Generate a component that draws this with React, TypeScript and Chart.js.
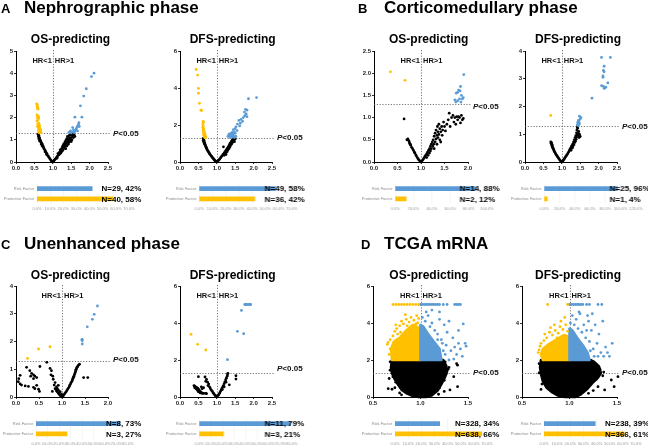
import React, { useEffect, useRef } from 'react';
import { Chart, registerables } from 'chart.js';

Chart.register(...registerables);

const FONT = "'Liberation Sans', Arial, Helvetica, sans-serif";
const BLUE = '#5B9BD5';
const YELLOW = '#FFC000';
const BLACK = '#000000';

type Pt = [number, number];

// ---------------- A: Nephrographic phase ----------------
const aOsProt: Pt[] = [[0.56,2.62],[0.58,2.58],[0.57,2.52],[0.59,2.47],[0.58,2.42],[0.60,2.38],[0.57,2.12],[0.59,2.08],[0.61,2.05],[0.58,2.0],[0.62,1.98],[0.60,1.9],[0.57,1.85],[0.62,1.75],[0.59,1.72],[0.61,1.68],[0.64,1.65],[0.58,1.62],[0.63,1.58],[0.60,1.55],[0.65,1.52],[0.62,1.5],[0.66,1.47],[0.63,1.45],[0.61,1.42],[0.67,1.4],[0.64,1.38],[0.66,1.35],[0.62,1.33],[0.68,1.32],[0.65,1.31]];
const aOsRisk: Pt[] = [[2.12,4.0],[2.05,3.85],[1.91,3.3],[1.84,2.97],[1.75,2.53],[1.6,2.02],[1.79,2.02],[1.71,1.77],[1.7,1.7],[1.68,1.62],[1.66,1.58],[1.72,1.6],[1.54,1.55],[1.56,1.45],[1.62,1.45],[1.48,1.4],[1.6,1.38],[1.52,1.35],[1.67,1.4],[1.44,1.33],[1.64,1.5],[1.58,1.33],[1.5,1.32]];
const aOsNs: Pt[] = [[0.6,1.25],[0.62,1.2],[0.61,1.15],[0.63,1.1],[0.62,1.05],[0.64,1.08],[0.65,1.0],[0.66,0.98],[0.64,0.95],[0.67,0.92],[0.68,0.88],[0.7,0.85],[0.69,0.8],[0.72,0.78],[0.71,0.72],[0.74,0.7],[0.75,0.65],[0.76,0.6],[0.78,0.55],[0.8,0.5],[0.79,0.46],[0.82,0.42],[0.84,0.38],[0.83,0.34],[0.86,0.3],[0.88,0.25],[0.9,0.2],[0.92,0.15],[0.94,0.1],[0.96,0.06],[0.98,0.03],[1.0,0.0],[1.02,0.03],[1.04,0.08],[1.06,0.12],[1.08,0.15],[1.1,0.2],[1.12,0.25],[1.15,0.3],[1.14,0.38],[1.18,0.35],[1.2,0.45],[1.2,0.55],[1.22,0.5],[1.24,0.6],[1.25,0.48],[1.26,0.68],[1.28,0.55],[1.28,0.75],[1.3,0.62],[1.3,0.82],[1.32,0.7],[1.33,0.9],[1.34,0.78],[1.35,0.6],[1.36,0.98],[1.36,0.85],[1.38,0.72],[1.38,1.05],[1.4,0.9],[1.4,1.15],[1.42,0.8],[1.42,1.0],[1.44,1.1],[1.44,0.88],[1.45,1.2],[1.46,0.95],[1.47,1.05],[1.48,1.22],[1.5,1.1],[1.52,1.0],[1.5,0.92],[1.53,1.18],[1.55,1.25],[1.56,1.1],[1.58,1.22],[1.6,1.15],[1.22,0.4],[1.17,0.42],[1.12,0.18]];

const aDfsProt: Pt[] = [[0.44,5.0],[0.48,4.7],[0.5,3.98],[0.5,3.72],[0.53,3.17],[0.57,2.8],[0.59,2.78],[0.63,2.2],[0.64,2.15],[0.62,2.05],[0.63,1.95],[0.62,1.88],[0.64,1.82],[0.63,1.75],[0.65,1.7],[0.64,1.65],[0.66,1.62],[0.65,1.58],[0.67,1.55],[0.64,1.52],[0.66,1.5],[0.68,1.47],[0.65,1.45],[0.67,1.42],[0.69,1.4],[0.66,1.38],[0.68,1.36],[0.7,1.34],[0.67,1.32],[0.69,1.31]];
const aDfsRisk: Pt[] = [[2.08,3.48],[1.86,3.42],[1.78,2.85],[1.82,2.8],[1.75,2.7],[1.8,2.6],[1.76,2.5],[1.82,2.45],[1.72,2.4],[1.7,2.2],[1.66,2.3],[1.6,2.25],[1.64,2.1],[1.56,2.05],[1.62,1.95],[1.52,1.9],[1.5,1.8],[1.55,1.7],[1.45,1.75],[1.48,1.62],[1.42,1.6],[1.38,1.55],[1.5,1.55],[1.4,1.45],[1.35,1.42],[1.46,1.4],[1.3,1.38],[1.42,1.35],[1.52,1.38],[1.36,1.33],[1.48,1.32],[1.33,1.5],[1.44,1.5]];
const aDfsNs: Pt[] = [[0.63,1.28],[0.64,1.22],[0.65,1.18],[0.63,1.15],[0.66,1.1],[0.65,1.05],[0.67,1.02],[0.66,0.98],[0.68,0.95],[0.69,0.9],[0.7,0.85],[0.71,0.8],[0.72,0.75],[0.73,0.7],[0.74,0.65],[0.76,0.6],[0.77,0.55],[0.79,0.5],[0.8,0.45],[0.82,0.4],[0.84,0.35],[0.86,0.3],[0.88,0.25],[0.9,0.2],[0.92,0.15],[0.94,0.1],[0.96,0.06],[0.98,0.03],[1.0,0.0],[1.02,0.03],[1.04,0.08],[1.06,0.12],[1.08,0.16],[1.1,0.22],[1.12,0.28],[1.14,0.32],[1.16,0.38],[1.18,0.42],[1.2,0.48],[1.2,0.36],[1.22,0.54],[1.24,0.6],[1.24,0.45],[1.26,0.66],[1.28,0.72],[1.28,0.55],[1.3,0.78],[1.3,0.65],[1.32,0.85],[1.33,0.72],[1.34,0.92],[1.35,0.8],[1.36,1.0],[1.37,0.88],[1.38,1.05],[1.39,0.95],[1.4,1.12],[1.41,1.0],[1.42,1.18],[1.43,1.08],[1.44,1.22],[1.45,1.15],[1.46,1.28],[1.47,1.2],[1.48,1.1],[1.5,1.25],[1.25,0.4],[1.18,0.82]];

// ---------------- B: Corticomedullary phase ----------------
const bOsProt: Pt[] = [[0.35,2.03],[0.66,1.84]];
const bOsRisk: Pt[] = [[1.91,1.97],[1.84,1.7],[1.8,1.62],[1.83,1.6],[1.78,1.57],[1.75,1.55],[1.86,1.5],[1.9,1.45],[1.82,1.42],[1.72,1.4],[1.78,1.38],[1.88,1.42],[1.74,1.35],[1.85,1.35]];
const bOsNs: Pt[] = [[0.64,0.97],[0.7,0.5],[0.72,0.52],[0.74,0.48],[0.75,0.45],[0.76,0.42],[0.77,0.4],[0.78,0.38],[0.8,0.33],[0.82,0.3],[0.84,0.26],[0.86,0.22],[0.87,0.2],[0.89,0.16],[0.9,0.14],[0.92,0.1],[0.94,0.07],[0.96,0.04],[0.98,0.02],[1.0,0.0],[1.02,0.02],[1.04,0.05],[1.06,0.08],[1.08,0.12],[1.1,0.15],[1.12,0.18],[1.12,0.1],[1.14,0.22],[1.15,0.15],[1.16,0.26],[1.18,0.3],[1.18,0.2],[1.2,0.35],[1.2,0.25],[1.22,0.4],[1.22,0.3],[1.24,0.45],[1.25,0.35],[1.26,0.5],[1.27,0.4],[1.28,0.58],[1.3,0.45],[1.3,0.65],[1.32,0.52],[1.32,0.72],[1.34,0.6],[1.35,0.8],[1.36,0.55],[1.36,0.68],[1.38,0.85],[1.38,0.62],[1.4,0.75],[1.4,0.5],[1.42,0.68],[1.44,0.8],[1.45,0.6],[1.46,0.72],[1.48,0.9],[1.5,0.8],[1.52,0.7],[1.55,0.85],[1.58,0.95],[1.6,1.1],[1.62,0.8],[1.65,1.0],[1.68,1.05],[1.7,0.9],[1.72,1.0],[1.74,0.85],[1.76,1.02],[1.78,0.95],[1.8,1.02],[1.82,1.0],[1.84,0.88],[1.86,1.05],[1.88,0.95],[1.9,0.98],[1.28,0.3],[1.34,0.4],[1.42,0.45]];

const bDfsProt: Pt[] = [[0.7,1.68]];
const bDfsRisk: Pt[] = [[2.08,3.77],[2.32,3.77],[2.15,3.45],[2.13,3.3],[2.15,3.25],[2.12,3.1],[2.12,3.05],[2.25,2.85],[2.08,2.75],[2.13,2.72],[2.18,2.68],[2.15,2.65],[2.2,2.7],[1.82,2.3],[1.48,1.65],[1.52,1.6],[1.5,1.55],[1.45,1.5],[1.47,1.45],[1.43,1.42],[1.46,1.4],[1.44,1.35],[1.42,1.33],[1.48,1.38],[1.45,1.31]];
const bDfsNs: Pt[] = [[0.7,0.72],[0.71,0.68],[0.72,0.65],[0.73,0.6],[0.74,0.57],[0.75,0.53],[0.76,0.5],[0.77,0.47],[0.78,0.44],[0.79,0.4],[0.8,0.37],[0.82,0.33],[0.84,0.28],[0.86,0.24],[0.88,0.2],[0.9,0.16],[0.92,0.12],[0.94,0.08],[0.96,0.05],[0.98,0.02],[1.0,0.0],[0.72,0.7],[0.74,0.62],[1.02,0.03],[1.04,0.06],[1.06,0.1],[1.08,0.14],[1.1,0.18],[1.12,0.22],[1.14,0.26],[1.16,0.3],[1.18,0.35],[1.2,0.4],[1.22,0.45],[1.24,0.5],[1.25,0.42],[1.26,0.55],[1.28,0.6],[1.28,0.5],[1.3,0.65],[1.3,0.55],[1.32,0.72],[1.33,0.62],[1.34,0.8],[1.35,0.7],[1.36,0.88],[1.37,0.75],[1.38,0.95],[1.39,0.82],[1.4,1.05],[1.4,0.9],[1.41,1.15],[1.42,0.98],[1.43,1.22],[1.44,1.05],[1.45,0.95],[1.46,1.1],[1.47,0.88],[1.48,1.0],[1.5,0.92],[1.42,1.26]];

// ---------------- C: Unenhanced phase ----------------
const cOsProt: Pt[] = [[0.25,1.39],[0.49,1.73],[0.74,1.81]];
const cOsRisk: Pt[] = [[1.77,3.28],[1.7,2.98],[1.66,2.8],[1.55,2.53],[1.44,2.08],[1.44,2.03],[1.44,1.91],[1.43,2.06]];
const cOsNs: Pt[] = [[0.67,1.25],[0.23,1.07],[0.3,0.95],[0.34,0.85],[0.38,0.8],[0.32,0.75],[0.41,0.75],[0.38,0.66],[0.45,0.7],[0.52,1.1],[0.45,0.42],[0.06,0.66],[0.05,0.55],[0.09,0.47],[0.12,0.43],[0.2,0.4],[0.27,0.38],[0.38,0.35],[0.41,0.3],[0.49,0.28],[0.51,0.2],[0.09,0.78],[0.74,1.03],[0.77,0.95],[0.76,0.8],[0.8,0.75],[0.81,0.64],[0.85,0.52],[0.83,0.43],[0.88,0.36],[0.92,0.25],[0.96,0.19],[0.99,0.1],[0.92,0.42],[0.79,0.2],[0.85,0.3],[0.88,0.22],[0.9,0.18],[0.92,0.14],[0.94,0.1],[0.96,0.06],[0.98,0.03],[1.0,0.0],[0.9,0.3],[0.87,0.27],[1.02,0.03],[1.04,0.08],[1.06,0.12],[1.08,0.17],[1.1,0.22],[1.12,0.27],[1.14,0.32],[1.16,0.38],[1.17,0.43],[1.19,0.48],[1.2,0.53],[1.22,0.58],[1.23,0.63],[1.24,0.68],[1.26,0.74],[1.27,0.8],[1.28,0.85],[1.29,0.9],[1.3,0.95],[1.31,1.0],[1.32,1.05],[1.34,1.1],[1.36,1.15],[1.38,1.18],[1.25,0.72],[1.3,0.98],[1.33,1.08],[1.47,0.7],[1.56,0.7]];

const cDfsProt: Pt[] = [[0.3,3.39],[0.48,2.85],[0.7,2.54]];
const cDfsRisk: Pt[] = [[1.76,5.0],[1.8,5.0],[1.84,5.0],[1.88,5.0],[1.92,5.0],[1.67,4.68],[1.56,3.55],[1.73,3.42],[1.29,2.02],[1.78,5.0],[1.9,5.0]];
const cDfsNs: Pt[] = [[0.38,0.62],[0.4,0.58],[0.42,0.55],[0.4,0.5],[0.45,0.52],[0.48,0.48],[0.44,0.45],[0.5,0.42],[0.46,0.4],[0.52,0.38],[0.48,0.35],[0.55,0.3],[0.5,0.28],[0.58,0.25],[0.55,0.22],[0.6,0.2],[0.62,0.2],[0.65,0.2],[0.7,0.2],[0.72,0.18],[0.5,1.1],[0.68,1.08],[0.72,0.95],[0.7,0.85],[0.75,0.8],[0.78,0.7],[0.76,0.62],[0.8,0.55],[0.82,0.48],[0.84,0.4],[0.86,0.35],[0.88,0.3],[0.9,0.22],[0.92,0.18],[0.94,0.12],[0.96,0.08],[0.98,0.04],[1.0,0.0],[0.64,0.5],[0.6,0.45],[0.58,0.55],[1.02,0.05],[1.04,0.1],[1.06,0.16],[1.08,0.22],[1.1,0.3],[1.12,0.38],[1.14,0.46],[1.16,0.54],[1.18,0.62],[1.2,0.72],[1.22,0.82],[1.24,0.92],[1.26,1.02],[1.28,1.12],[1.29,1.2],[1.3,1.28],[1.15,0.4],[1.2,0.55],[1.25,0.8],[1.52,1.15],[1.52,0.97],[1.34,0.66]];

// ---------------- D: TCGA mRNA ----------------
const dOsNsShape: Pt[] = [[0.7,2.0],[0.69,1.6],[0.7,1.28],[0.73,0.95],[0.76,0.7],[0.8,0.4],[0.86,0.18],[0.92,0.05],[0.98,0.0],[1.06,0.0],[1.12,0.1],[1.18,0.35],[1.22,0.7],[1.26,1.1],[1.28,1.4],[1.27,1.7],[1.24,2.0]];
const dOsNs: Pt[] = [[1.38,1.8],[1.39,1.72],[1.35,1.1],[1.39,0.56],[1.31,0.38],[1.25,0.3],[0.7,0.42],[0.73,0.5],[0.66,0.45],[0.78,0.22],[1.3,1.6],[0.67,1.0],[1.19,0.15],[0.8,0.12],[0.68,1.9],[0.68,1.45],[0.71,1.1],[0.74,0.8],[1.27,1.25],[1.29,1.5],[1.25,0.9],[1.2,0.5],[1.26,1.9]];
const dOsProtShape: Pt[] = [[0.7,2.0],[1.0,2.0],[1.0,3.7],[0.92,3.9],[0.85,3.6],[0.78,3.2],[0.72,3.0],[0.69,2.6]];
const dOsProt: Pt[] = [[0.65,2.85],[0.66,2.95],[0.68,3.1],[0.71,3.3],[0.73,3.55],[0.75,3.7],[0.74,3.9],[0.78,3.85],[0.8,4.1],[0.82,3.95],[0.85,4.2],[0.88,4.05],[0.9,4.3],[0.93,4.15],[0.96,4.4],[0.98,4.25],[0.84,4.45],[0.79,3.5],[0.9,3.75],[0.95,3.95],[0.86,3.85],[0.97,4.0],[0.67,2.3],[0.68,2.6],[0.76,3.4],[0.71,5.0],[0.74,5.0],[0.77,5.0],[0.8,5.0],[0.83,5.0],[0.86,5.0],[0.89,5.0],[0.92,5.0],[0.95,5.0],[0.98,5.0]];
const dOsRiskShape: Pt[] = [[1.0,2.0],[1.22,2.0],[1.2,2.6],[1.14,3.0],[1.08,3.4],[1.03,3.8],[1.0,3.9]];
const dOsRisk: Pt[] = [[1.02,4.3],[1.05,4.1],[1.08,4.4],[1.1,3.8],[1.12,4.0],[1.15,3.6],[1.18,3.4],[1.2,4.2],[1.22,3.1],[1.25,3.9],[1.27,2.8],[1.28,3.5],[1.3,4.1],[1.32,2.5],[1.34,3.2],[1.36,2.7],[1.38,2.3],[1.4,2.9],[1.42,2.6],[1.45,3.95],[1.44,2.2],[1.47,2.9],[1.48,2.75],[1.35,2.05],[1.26,2.3],[1.3,2.0],[1.2,4.6],[1.12,4.7],[1.06,4.6],[1.4,3.6],[1.24,2.5],[1.16,2.8],[1.23,2.9],[1.18,3.1],[1.0,5.0],[1.02,5.0],[1.04,5.0],[1.06,5.0],[1.08,5.0],[1.1,5.0],[1.12,5.0],[1.14,5.0],[1.16,5.0],[1.18,5.0],[1.2,5.0],[1.24,5.0],[1.28,5.0],[1.36,5.0],[1.38,5.0],[1.4,5.0],[1.42,5.0]];

const dDfsNsShape: Pt[] = [[0.7,2.0],[0.69,1.6],[0.7,1.25],[0.72,0.85],[0.76,0.5],[0.82,0.25],[0.88,0.08],[0.95,0.0],[1.06,0.0],[1.12,0.15],[1.18,0.4],[1.24,0.75],[1.3,1.05],[1.33,1.3],[1.31,1.65],[1.26,1.9],[1.22,2.0]];
const dDfsNs: Pt[] = [[1.51,1.1],[1.44,0.92],[1.29,1.68],[1.47,0.56],[1.3,0.56],[1.37,0.38],[0.7,0.41],[1.36,1.35],[1.2,0.2],[1.25,0.35],[0.68,1.8],[0.68,1.3],[0.71,0.7],[1.32,1.5],[1.28,0.95],[1.35,1.15]];
const dDfsProtShape: Pt[] = [[0.72,2.0],[1.0,2.0],[1.0,3.2],[0.94,3.35],[0.86,3.1],[0.78,2.85],[0.72,2.6],[0.7,2.3]];
const dDfsProt: Pt[] = [[0.67,2.4],[0.68,2.55],[0.69,2.75],[0.7,2.9],[0.73,3.05],[0.76,3.2],[0.74,3.4],[0.79,3.5],[0.82,3.35],[0.85,3.6],[0.88,3.45],[0.9,3.8],[0.93,3.65],[0.96,3.9],[0.98,3.55],[0.84,3.9],[0.8,3.75],[0.91,4.1],[0.95,4.3],[0.87,3.2],[0.97,3.3],[0.77,5.0],[0.98,5.0]];
const dDfsRiskShape: Pt[] = [[1.0,2.0],[1.21,2.0],[1.19,2.4],[1.14,2.8],[1.08,3.2],[1.03,3.6],[1.0,3.7]];
const dDfsRisk: Pt[] = [[1.01,4.0],[1.03,4.4],[1.05,3.9],[1.07,4.2],[1.09,3.7],[1.11,4.5],[1.13,3.5],[1.15,3.9],[1.17,3.2],[1.19,4.4],[1.21,3.0],[1.23,3.6],[1.25,2.6],[1.27,3.9],[1.29,2.9],[1.31,3.4],[1.33,2.4],[1.35,4.1],[1.36,2.2],[1.38,2.7],[1.4,2.4],[1.42,2.2],[1.45,2.9],[1.3,2.2],[1.26,2.2],[1.2,4.1],[1.1,4.6],[1.24,4.5],[1.18,3.6],[1.22,2.5],[1.0,5.0],[1.02,5.0],[1.04,5.0],[1.06,5.0],[1.08,5.0],[1.1,5.0],[1.12,5.0],[1.14,5.0],[1.18,5.0],[1.21,5.0],[1.3,5.0],[1.34,5.0]];

// ---------------- Bar summaries (Risk, Protective) ----------------
const barCategories = ['Risk Factor', 'Protective Factor'];
const aOsPct = [42, 58]; const aOsN = [29, 40];
const aDfsPct = [58, 42]; const aDfsN = [49, 36];
const bOsPct = [88, 12]; const bOsN = [14, 2];
const bDfsPct = [96, 4]; const bDfsN = [25, 1];
const cOsPct = [73, 27]; const cOsN = [8, 3];
const cDfsPct = [79, 21]; const cDfsN = [11, 3];
const dOsPct = [34, 66]; const dOsN = [328, 638];
const dDfsPct = [39, 61]; const dDfsN = [238, 366];

const SIG = -Math.log10(0.05);

const toXY = (a: Pt[]) => a.map(([x, y]) => ({ x, y }));

// ---------- plugins ----------
const volcanoDeco = {
  id: 'volcanoDeco',
  beforeDatasetsDraw(chart: any, _args: any, opts: any) {
    const { ctx, chartArea: a, scales } = chart;
    const px = Math.round(scales.x.getPixelForValue(1)) + 0.5;
    const py = Math.round(scales.y.getPixelForValue(SIG)) + 0.5;
    ctx.save();
    ctx.strokeStyle = '#555';
    ctx.lineWidth = 0.8;
    ctx.setLineDash([1.2, 1.6]);
    ctx.beginPath();
    ctx.moveTo(px, a.top - 1);
    ctx.lineTo(px, a.bottom);
    ctx.stroke();
    ctx.beginPath();
    ctx.moveTo(a.left, py);
    ctx.lineTo(a.right + 3, py);
    ctx.stroke();
    ctx.setLineDash([]);
    // dense regions of the point cloud, drawn through the scales
    (opts.shapes || []).forEach((s: { pts: Pt[]; color: string }) => {
      ctx.beginPath();
      s.pts.forEach(([x, y], i) => {
        const X = scales.x.getPixelForValue(x);
        const Y = scales.y.getPixelForValue(y);
        if (i === 0) ctx.moveTo(X, Y); else ctx.lineTo(X, Y);
      });
      ctx.closePath();
      ctx.fillStyle = s.color;
      ctx.strokeStyle = s.color;
      ctx.lineWidth = 2.6;
      ctx.lineJoin = 'round';
      ctx.fill();
      ctx.stroke();
    });
    ctx.restore();
  },
  afterDatasetsDraw(chart: any, _args: any, opts: any) {
    const { ctx, chartArea: a, scales } = chart;
    const px = scales.x.getPixelForValue(1);
    const py = scales.y.getPixelForValue(SIG);
    ctx.save();
    ctx.fillStyle = '#111';
    ctx.textBaseline = 'middle';
    ctx.font = `bold 7.5px ${FONT}`;
    ctx.textAlign = 'right';
    ctx.fillText('HR<1', px - 1, a.top + 10);
    ctx.textAlign = 'left';
    ctx.fillText('HR>1', px + 2, a.top + 10);
    const tx = a.right + 5;
    const ty = py + (opts.pDy || 0);
    ctx.font = `italic bold 8px ${FONT}`;
    ctx.fillText('P', tx, ty);
    const w = ctx.measureText('P').width;
    ctx.font = `bold 8px ${FONT}`;
    ctx.fillText('<0.05', tx + w, ty);
    ctx.restore();
  },
};

const barLabels = {
  id: 'barLabels',
  afterDatasetsDraw(chart: any, _args: any, opts: any) {
    const { ctx } = chart;
    const meta = chart.getDatasetMeta(0);
    ctx.save();
    ctx.font = `bold 8px ${FONT}`;
    ctx.fillStyle = '#000';
    ctx.textAlign = 'left';
    ctx.textBaseline = 'middle';
    meta.data.forEach((bar: any, i: number) => {
      ctx.fillText(opts.labels[i], opts.x, bar.y + 0.5);
    });
    ctx.restore();
  },
};

// ---------- layout constants ----------
const V_PAD_L = 18, V_PAD_R = 42, V_PAD_T = 6, V_PAD_B = 12;
const B_PAD_L = 40, B_PAD_R = 50, B_PAD_T = 2, B_PAD_B = 10;

interface VolcanoSpec {
  left: number; top: number; w: number; h: number;
  xMin: number; xMax: number; xStep: number;
  yMax: number; yStep: number; yDec: number;
  prot: Pt[]; risk: Pt[]; ns: Pt[];
  nsShape?: Pt[]; protShape?: Pt[]; riskShape?: Pt[];
  pDy: number;
}

function dots(data: Pt[], color: string, order: number) {
  return {
    data: toXY(data),
    backgroundColor: color,
    borderColor: color,
    borderWidth: 0,
    pointRadius: 1.4,
    pointHoverRadius: 1.4,
    showLine: false,
    order,
    clip: false,
  };
}

function volcanoConfig(s: VolcanoSpec): any {
  const datasets: any[] = [dots(s.ns, BLACK, 3), dots(s.prot, YELLOW, 1), dots(s.risk, BLUE, 1)];
  const shapes: { pts: Pt[]; color: string }[] = [];
  if (s.nsShape) shapes.push({ pts: s.nsShape, color: BLACK });
  if (s.protShape) shapes.push({ pts: s.protShape, color: YELLOW });
  if (s.riskShape) shapes.push({ pts: s.riskShape, color: BLUE });
  const tickFont = { size: 6, weight: 'bold' as const, family: FONT };
  return {
    type: 'scatter',
    data: { datasets },
    plugins: [volcanoDeco],
    options: {
      animation: false,
      responsive: false,
      maintainAspectRatio: false,
      events: [],
      layout: { padding: { top: V_PAD_T, right: V_PAD_R, left: 0, bottom: 0 } },
      plugins: {
        legend: { display: false },
        tooltip: { enabled: false },
        volcanoDeco: { pDy: s.pDy, shapes },
      },
      scales: {
        x: {
          type: 'linear',
          min: s.xMin,
          max: s.xMax,
          ticks: {
            stepSize: s.xStep,
            autoSkip: false,
            maxRotation: 0,
            padding: 1,
            color: '#222',
            font: tickFont,
            callback: (v: any) => Number(v).toFixed(1),
          },
          grid: { drawOnChartArea: false, drawTicks: true, tickLength: 2, color: '#000', lineWidth: 0.8 },
          border: { display: true, color: '#000', width: 1 },
          afterFit: (sc: any) => { sc.height = V_PAD_B; },
        },
        y: {
          type: 'linear',
          min: 0,
          max: s.yMax,
          ticks: {
            stepSize: s.yStep,
            autoSkip: false,
            padding: 1,
            color: '#222',
            font: tickFont,
            callback: (v: any) => Number(v).toFixed(s.yDec),
          },
          grid: { drawOnChartArea: false, drawTicks: true, tickLength: 2, color: '#000', lineWidth: 0.8 },
          border: { display: true, color: '#000', width: 1 },
          afterFit: (sc: any) => { sc.width = V_PAD_L; },
        },
      },
    },
  };
}

interface BarSpec {
  left: number; top: number; w: number; h: number;
  max: number; step: number; pct: number[]; n: number[]; textX: number;
}

function barConfig(s: BarSpec): any {
  const canvasLeft = s.left - B_PAD_L;
  return {
    type: 'bar',
    data: {
      labels: barCategories,
      datasets: [{ data: s.pct, backgroundColor: [BLUE, YELLOW], barThickness: 4, borderWidth: 0 }],
    },
    plugins: [barLabels],
    options: {
      indexAxis: 'y',
      animation: false,
      responsive: false,
      maintainAspectRatio: false,
      events: [],
      layout: { padding: { top: B_PAD_T, right: B_PAD_R, left: 0, bottom: 0 } },
      plugins: {
        legend: { display: false },
        tooltip: { enabled: false },
        barLabels: { labels: s.n.map((n, i) => `N=${n}, ${s.pct[i]}%`), x: s.textX - canvasLeft },
      },
      scales: {
        x: {
          min: 0,
          max: s.max,
          ticks: {
            stepSize: s.step,
            autoSkip: false,
            maxRotation: 0,
            padding: 2,
            color: '#9a9a9a',
            font: { size: 4, family: FONT },
            callback: (v: any) => `${Number(v).toFixed(1)}%`,
          },
          grid: { drawTicks: false, color: '#eeeeee', lineWidth: 0.6 },
          border: { display: false },
          afterFit: (sc: any) => { sc.height = B_PAD_B; },
        },
        y: {
          ticks: { padding: 3, color: '#8a8a8a', font: { size: 4, family: FONT } },
          grid: { display: false, drawTicks: false },
          border: { display: false },
          afterFit: (sc: any) => { sc.width = B_PAD_L; },
        },
      },
    },
  };
}

function ChartCanvas({ left, top, width, height, make }: { left: number; top: number; width: number; height: number; make: () => any }) {
  const ref = useRef<HTMLCanvasElement>(null);
  useEffect(() => {
    const chart = new Chart(ref.current as HTMLCanvasElement, make());
    return () => chart.destroy();
  }, []);
  return (
    <canvas
      ref={ref}
      width={width}
      height={height}
      style={{ position: 'absolute', left, top, width, height }}
    />
  );
}

function Volcano(s: VolcanoSpec) {
  const left = s.left - V_PAD_L;
  const top = s.top - V_PAD_T;
  const width = V_PAD_L + s.w + V_PAD_R;
  const height = V_PAD_T + s.h + V_PAD_B;
  return <ChartCanvas left={left} top={top} width={width} height={height} make={() => volcanoConfig(s)} />;
}

function Bars(s: BarSpec) {
  const left = s.left - B_PAD_L;
  const top = s.top - B_PAD_T;
  const width = B_PAD_L + s.w + B_PAD_R;
  const height = B_PAD_T + s.h + B_PAD_B;
  return <ChartCanvas left={left} top={top} width={width} height={height} make={() => barConfig(s)} />;
}

const volcanoes: VolcanoSpec[] = [
  { left: 16, top: 51, w: 92, h: 111, xMin: 0, xMax: 2.5, xStep: 0.5, yMax: 5, yStep: 1, yDec: 0, prot: aOsProt, risk: aOsRisk, ns: aOsNs, pDy: 1 },
  { left: 180, top: 51, w: 92, h: 111, xMin: 0, xMax: 2.5, xStep: 0.5, yMax: 6, yStep: 2, yDec: 0, prot: aDfsProt, risk: aDfsRisk, ns: aDfsNs, pDy: 0 },
  { left: 374, top: 51, w: 94, h: 111, xMin: 0, xMax: 2.0, xStep: 0.5, yMax: 2.5, yStep: 0.5, yDec: 1, prot: bOsProt, risk: bOsRisk, ns: bOsNs, pDy: 3 },
  { left: 525, top: 51, w: 92, h: 111, xMin: 0, xMax: 2.5, xStep: 0.5, yMax: 4, yStep: 1, yDec: 0, prot: bDfsProt, risk: bDfsRisk, ns: bDfsNs, pDy: 1 },
  { left: 16, top: 286, w: 92, h: 111, xMin: 0, xMax: 2.0, xStep: 0.5, yMax: 4, yStep: 1, yDec: 0, prot: cOsProt, risk: cOsRisk, ns: cOsNs, pDy: -1 },
  { left: 180, top: 286, w: 92, h: 111, xMin: 0, xMax: 2.5, xStep: 0.5, yMax: 6, yStep: 2, yDec: 0, prot: cDfsProt, risk: cDfsRisk, ns: cDfsNs, pDy: -4 },
  { left: 373, top: 286, w: 95, h: 111, xMin: 0.5, xMax: 1.5, xStep: 0.5, yMax: 6, yStep: 2, yDec: 0, prot: dOsProt, risk: dOsRisk, ns: dOsNs, nsShape: dOsNsShape, protShape: dOsProtShape, riskShape: dOsRiskShape, pDy: 0 },
  { left: 522, top: 286, w: 95, h: 111, xMin: 0.5, xMax: 1.5, xStep: 0.5, yMax: 6, yStep: 2, yDec: 0, prot: dDfsProt, risk: dDfsRisk, ns: dDfsNs, nsShape: dDfsNsShape, protShape: dDfsProtShape, riskShape: dDfsRiskShape, pDy: 0 },
];

const bars: BarSpec[] = [
  { left: 36.5, top: 180, w: 92.5, h: 24, max: 70, step: 10, pct: aOsPct, n: aOsN, textX: 101 },
  { left: 199, top: 180, w: 92.5, h: 24, max: 70, step: 10, pct: aDfsPct, n: aDfsN, textX: 264 },
  { left: 395, top: 180, w: 91.7, h: 24, max: 100, step: 20, pct: bOsPct, n: bOsN, textX: 459 },
  { left: 544, top: 180, w: 91.7, h: 24, max: 120, step: 20, pct: bDfsPct, n: bDfsN, textX: 609 },
  { left: 36, top: 415, w: 92, h: 24, max: 80, step: 10, pct: cOsPct, n: cOsN, textX: 106 },
  { left: 199, top: 415, w: 92.5, h: 24, max: 80, step: 10, pct: cDfsPct, n: cDfsN, textX: 264 },
  { left: 395, top: 415, w: 92, h: 24, max: 70, step: 10, pct: dOsPct, n: dOsN, textX: 455 },
  { left: 544, top: 415, w: 92, h: 24, max: 70, step: 10, pct: dDfsPct, n: dDfsN, textX: 605 },
];

const headings = [
  { x: 1, y: 12.5, t: 'A', size: 13, anchor: 'start' },
  { x: 24, y: 12.7, t: 'Nephrographic phase', size: 17, anchor: 'start' },
  { x: 358, y: 12.5, t: 'B', size: 13, anchor: 'start' },
  { x: 384, y: 12.7, t: 'Corticomedullary phase', size: 17, anchor: 'start' },
  { x: 1, y: 248.7, t: 'C', size: 13, anchor: 'start' },
  { x: 24, y: 248.7, t: 'Unenhanced phase', size: 17, anchor: 'start' },
  { x: 361, y: 248.7, t: 'D', size: 13, anchor: 'start' },
  { x: 384, y: 248.7, t: 'TCGA mRNA', size: 17, anchor: 'start' },
  { x: 70.5, y: 42.7, t: 'OS-predicting', size: 12, anchor: 'middle' },
  { x: 232.7, y: 42.7, t: 'DFS-predicting', size: 12, anchor: 'middle' },
  { x: 428.7, y: 42.7, t: 'OS-predicting', size: 12, anchor: 'middle' },
  { x: 578, y: 42.7, t: 'DFS-predicting', size: 12, anchor: 'middle' },
  { x: 70.5, y: 278.7, t: 'OS-predicting', size: 12, anchor: 'middle' },
  { x: 232.7, y: 278.7, t: 'DFS-predicting', size: 12, anchor: 'middle' },
  { x: 429, y: 278.7, t: 'OS-predicting', size: 12, anchor: 'middle' },
  { x: 578, y: 278.7, t: 'DFS-predicting', size: 12, anchor: 'middle' },
];

export default function App() {
  return (
    <div style={{ position: 'absolute', left: 0, top: 0, width: 648, height: 445, background: '#fff', overflow: 'hidden' }}>
      {volcanoes.map((v, i) => <Volcano key={`v${i}`} {...v} />)}
      {bars.map((b, i) => <Bars key={`b${i}`} {...b} />)}
      <svg width={648} height={445} style={{ position: 'absolute', left: 0, top: 0, pointerEvents: 'none' }}>
        {headings.map((h, i) => (
          <text key={i} x={h.x} y={h.y} textAnchor={h.anchor as any} fontFamily={FONT} fontWeight="bold" fontSize={h.size} fill="#000">{h.t}</text>
        ))}
      </svg>
    </div>
  );
}
